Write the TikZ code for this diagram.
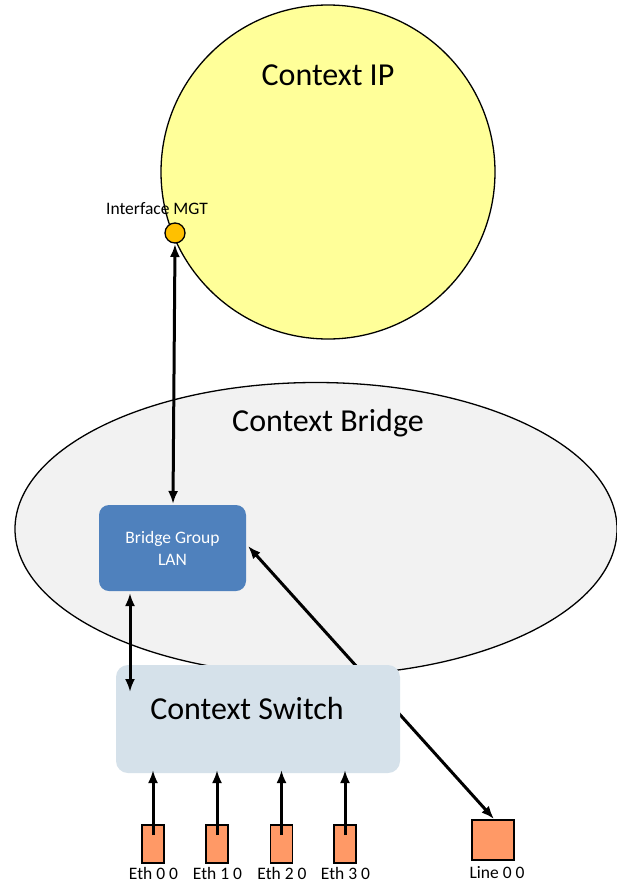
\documentclass[tikz,border=0pt]{standalone}
\usepackage{fontspec}
\setmainfont{Carlito}
\usetikzlibrary{arrows.meta,shapes.geometric}
\definecolor{ipfill}{HTML}{FFFF99}
\definecolor{mgtfill}{HTML}{FFC000}
\definecolor{bridgefill}{HTML}{F2F2F2}
\definecolor{groupfill}{HTML}{4F81BD}
\definecolor{switchfill}{HTML}{D5E1EA}
\definecolor{portfill}{HTML}{FF9966}
\tikzset{
  ctxtitle/.style={font=\fontsize{32}{36}\selectfont},
  portbox/.style={draw=black, line width=1.5pt, fill=portfill, inner sep=0pt},
  portlabel/.style={font=\fontsize{17.5}{20}\selectfont, inner sep=0pt},
  link/.style={line width=3pt, {Latex[length=13pt,width=10pt]}-{Latex[length=13pt,width=10pt]}},
  uplink/.style={line width=3pt, -{Latex[length=13pt,width=10pt]}}
}
\begin{document}
\begin{tikzpicture}[x=1pt,y=-1pt]
\useasboundingbox (0,0) rectangle (617,884);
\fill[white] (0,0) rectangle (617,884);

% Context IP
\node[circle, draw=black, line width=1.3pt, fill=ipfill, minimum size=334pt, inner sep=0pt] (ip) at (328,172) {};
\node[ctxtitle] (iptitle) at (328,75) {Context IP};

% Context Bridge
\node[ellipse, draw=black, line width=1.3pt, fill=bridgefill, minimum width=602pt, minimum height=293pt, inner sep=0pt] (bridge) at (316,529) {};
\node[ctxtitle] (bridgetitle) at (328,423) {Context Bridge};

% Line 0 0 link, passing behind the switch
\node[portbox, minimum width=42pt, minimum height=40pt] (line) at (493,840) {};
\node[portlabel] (linelbl) at (497,873) {Line 0 0};
\coordinate (lineend) at (494,819);
\coordinate (groupend) at (248,546);
\draw[link] (groupend) -- (lineend);

% Bridge Group LAN
\node[draw=none, fill=groupfill, rounded corners=10pt, minimum width=147pt, minimum height=86pt, inner sep=0pt, text=white, align=center, font=\fontsize{17.5}{22}\selectfont] (group) at (172.5,548) {Bridge Group\\LAN};

% Context Switch
\node[fill=switchfill, rounded corners=12pt, minimum width=284pt, minimum height=108pt, inner sep=0pt] (switch) at (258,719) {};
\node[ctxtitle] (switchtitle) at (247,708) {Context Switch};

% Interface MGT
\node[circle, draw=black, line width=1.3pt, fill=mgtfill, minimum size=20pt, inner sep=0pt] (mgt) at (175,233) {};
\node[font=\fontsize{17.5}{20}\selectfont] (mgtlbl) at (157,209) {Interface MGT};

\coordinate (mgtend) at (175,244);
\coordinate (grouptop) at (173,504);
\draw[link] (mgtend) -- (grouptop);

\coordinate (groupbot) at (130,593);
\coordinate (switchleft) at (130,692);
\draw[link] (groupbot) -- (switchleft);

% Ethernet ports
\foreach \n/\x in {0/153,1/217,2/281.5,3/345}{
  \node[portbox, minimum width=22pt, minimum height=38pt] (eth\n) at (\x,844) {};
  \node[portlabel] (eth\n lbl) at (\x+0.5,873) {Eth \n\ 0};
  \coordinate (eth\n top) at (\x,770);
  \draw[uplink] (eth\n.center) ++(0,-9) -- (eth\n top);
}
\end{tikzpicture}
\end{document}
